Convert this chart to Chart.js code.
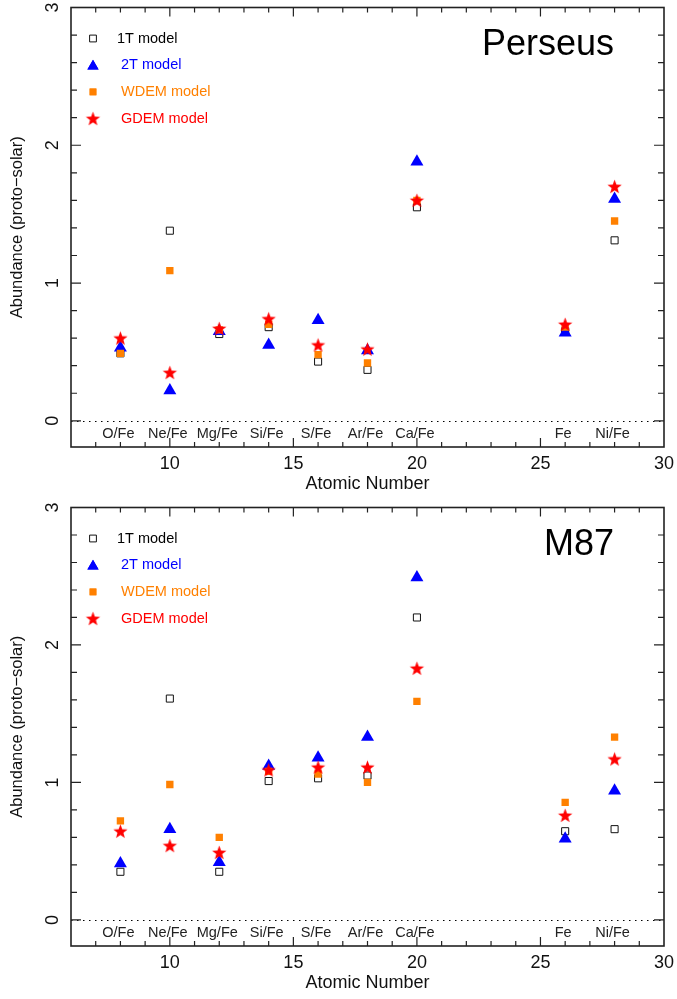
<!DOCTYPE html>
<html lang="en">
<head>
<meta charset="UTF-8">
<title>Abundance ratios: Perseus and M87</title>
<script src="https://cdn.jsdelivr.net/npm/chart.js"></script>
<style>
    body { margin: 0; background: #fff; }
    canvas { display: block; }
</style>
</head>
<body>
<canvas id="perseusChart" width="677" height="500"></canvas>
<canvas id="m87Chart" width="677" height="499"></canvas>

<script>
// element positions on the x axis and the ratio names written under them
const atomicNumbers = [8, 10, 12, 14, 16, 18, 20, 26, 28];
const ratioLabels = ['O/Fe', 'Ne/Fe', 'Mg/Fe', 'Si/Fe', 'S/Fe', 'Ar/Fe', 'Ca/Fe', 'Fe', 'Ni/Fe'];
const xTickLabels = [10, 15, 20, 25, 30];
const yTickLabels = [0, 1, 2, 3];
const modelNames = ['1T model', '2T model', 'WDEM model', 'GDEM model'];

// Perseus
const perseus1T   = [0.49, 1.38, 0.63, 0.68, 0.43, 0.37, 1.55, 0.65, 1.31];
const perseus2T   = [0.53, 0.22, 0.65, 0.55, 0.73, 0.51, 1.88, 0.64, 1.61];
const perseusWDEM = [0.49, 1.09, 0.66, 0.70, 0.48, 0.42, 1.60, 0.68, 1.45];
const perseusGDEM = [0.60, 0.35, 0.67, 0.74, 0.55, 0.52, 1.60, 0.70, 1.70];

// M87
const m87_1T   = [0.35, 1.61, 0.35, 1.01, 1.03, 1.05, 2.20, 0.645, 0.66];
const m87_2T   = [0.41, 0.66, 0.42, 1.12, 1.18, 1.33, 2.49, 0.59, 0.94];
const m87_WDEM = [0.72, 0.985, 0.60, 1.08, 1.06, 1.00, 1.59, 0.855, 1.33];
const m87_GDEM = [0.645, 0.54, 0.49, 1.09, 1.11, 1.11, 1.83, 0.76, 1.17];

const FONT = '"Liberation Sans", Arial, Helvetica, sans-serif';
const BLUE = '#0000ff';
const ORANGE = '#ff8000';
const RED = '#ff0000';

// filled five-pointed star, used as an image point style
function makeStar(color, outer, inner) {
    const size = Math.ceil(outer * 2 + 2);
    const c = document.createElement('canvas');
    c.width = size;
    c.height = size;
    const g = c.getContext('2d');
    g.beginPath();
    for (let i = 0; i < 10; i++) {
        const r = i % 2 ? inner : outer;
        const a = -Math.PI / 2 + i * Math.PI / 5;
        const px = size / 2 + r * Math.cos(a);
        const py = size / 2 + 0.6 + r * Math.sin(a);
        if (i === 0) g.moveTo(px, py); else g.lineTo(px, py);
    }
    g.closePath();
    g.fillStyle = color;
    g.fill();
    return c;
}
const redStar = makeStar(RED, 7.5, 3.1);

function makeDatasets(v1T, v2T, vWDEM, vGDEM) {
    const pts = vals => atomicNumbers.map((x, i) => ({ x: x, y: vals[i] }));
    return [
        { label: modelNames[0], data: pts(v1T), order: 3, textColor: '#000',
          pointStyle: 'rect', pointRadius: 5, pointHoverRadius: 5,
          pointBorderColor: '#111', pointBackgroundColor: 'rgba(0,0,0,0)', pointBorderWidth: 1 },
        { label: modelNames[1], data: pts(v2T), order: 2, textColor: BLUE,
          pointStyle: 'triangle', pointRadius: 7.5, pointHoverRadius: 7.5,
          pointBorderColor: BLUE, pointBackgroundColor: BLUE, pointBorderWidth: 0 },
        { label: modelNames[2], data: pts(vWDEM), order: 1, textColor: ORANGE,
          pointStyle: 'rect', pointRadius: 5.2, pointHoverRadius: 5.2,
          pointBorderColor: ORANGE, pointBackgroundColor: ORANGE, pointBorderWidth: 0 },
        { label: modelNames[3], data: pts(vGDEM), order: 0, textColor: RED,
          pointStyle: redStar, pointRadius: 7, pointHoverRadius: 7,
          pointBorderColor: RED, pointBackgroundColor: RED, pointBorderWidth: 0 }
    ];
}

// frame, inward ticks, labels, legend and title are all drawn here
const framePlugin = {
    id: 'frame',
    beforeDatasetsDraw(chart, args, opts) {
        const ctx = chart.ctx;
        const { left, right, top, bottom } = chart.chartArea;
        const xs = chart.scales.x;
        const ys = chart.scales.y;
        ctx.save();

        // zero line
        ctx.strokeStyle = '#000';
        ctx.lineWidth = 1;
        ctx.setLineDash([1.5, 4.5]);
        ctx.beginPath();
        const y0 = Math.round(ys.getPixelForValue(0)) + 0.5;
        ctx.moveTo(left, y0);
        ctx.lineTo(right, y0);
        ctx.stroke();
        ctx.setLineDash([]);

        // ticks
        ctx.strokeStyle = '#222';
        ctx.lineWidth = 1.2;
        ctx.beginPath();
        for (let v = 7; v < 30; v++) {
            const px = xs.getPixelForValue(v);
            const len = v % 5 === 0 ? 9 : 5;
            ctx.moveTo(px, bottom); ctx.lineTo(px, bottom - len);
            ctx.moveTo(px, top); ctx.lineTo(px, top + len);
        }
        for (let k = 0; k <= 15; k++) {
            const v = k * 0.2;
            const py = ys.getPixelForValue(v);
            const len = k % 5 === 0 ? 10 : 6;
            ctx.moveTo(left, py); ctx.lineTo(left + len, py);
            ctx.moveTo(right, py); ctx.lineTo(right - len, py);
        }
        ctx.stroke();

        // box
        ctx.lineWidth = 1.6;
        ctx.strokeRect(left, top, right - left, bottom - top);

        ctx.fillStyle = '#111';
        // x tick labels
        ctx.font = '18px ' + FONT;
        ctx.textAlign = 'center';
        ctx.textBaseline = 'middle';
        xTickLabels.forEach(v => ctx.fillText(String(v), xs.getPixelForValue(v), bottom + 17));
        ctx.fillText('Atomic Number', (left + right) / 2, bottom + 37);

        // y tick labels, rotated
        yTickLabels.forEach(v => {
            ctx.save();
            ctx.translate(53, ys.getPixelForValue(v));
            ctx.rotate(-Math.PI / 2);
            ctx.fillText(String(v), 0, 0);
            ctx.restore();
        });
        ctx.save();
        ctx.font = '16.5px ' + FONT;
        ctx.translate(17, (top + bottom) / 2);
        ctx.rotate(-Math.PI / 2);
        ctx.fillText('Abundance (proto\u2212solar)', 0, 0);
        ctx.restore();

        // ratio names inside the frame
        ctx.font = '14.5px ' + FONT;
        ctx.fillStyle = '#222';
        atomicNumbers.forEach((x, i) => {
            ctx.fillText(ratioLabels[i], xs.getPixelForValue(x) - 2, bottom - 13);
        });

        // legend
        ctx.textAlign = 'left';
        chart.data.datasets.forEach((ds, i) => {
            const ly = top + 31 + i * 26.7;
            const lx = left + 22;
            ctx.fillStyle = ds.pointBackgroundColor;
            ctx.strokeStyle = ds.pointBorderColor;
            ctx.lineWidth = ds.pointBorderWidth;
            const r = ds.pointStyle === 'triangle' ? 6.5 : (ds.pointRadius > 6 ? 6.5 : 4.8);
            Chart.helpers.drawPoint(ctx, {
                pointStyle: ds.pointStyle, radius: r, rotation: 0, borderWidth: ds.pointBorderWidth
            }, lx, ly + (ds.pointStyle === 'triangle' ? 1 : 0));
            if (ds.pointBorderWidth === 0 && ds.pointStyle !== redStar) ctx.fill();
            ctx.fillStyle = ds.textColor;
            ctx.font = '14.5px ' + FONT;
            ctx.fillText(ds.label, i === 0 ? lx + 24 : lx + 28, ly);
        });

        // cluster name
        ctx.fillStyle = '#000';
        ctx.font = '36px ' + FONT;
        ctx.textAlign = 'right';
        ctx.textBaseline = 'alphabetic';
        ctx.fillText(opts.title, right - 50, top + 47);

        ctx.restore();
    }
};

function makeChart(id, title, datasets) {
    return new Chart(document.getElementById(id), {
        type: 'scatter',
        data: { datasets: datasets },
        options: {
            responsive: false,
            animation: false,
            events: [],
            layout: { padding: { left: 71, right: 13, top: 6, bottom: 53 } },
            scales: {
                x: { type: 'linear', min: 6, max: 30, display: false },
                y: { type: 'linear', min: -0.19, max: 3.0, display: false }
            },
            plugins: {
                legend: { display: false },
                tooltip: { enabled: false },
                frame: { title: title }
            }
        },
        plugins: [framePlugin]
    });
}

makeChart('perseusChart', 'Perseus', makeDatasets(perseus1T, perseus2T, perseusWDEM, perseusGDEM));
makeChart('m87Chart', 'M87', makeDatasets(m87_1T, m87_2T, m87_WDEM, m87_GDEM));
</script>
</body>
</html>
